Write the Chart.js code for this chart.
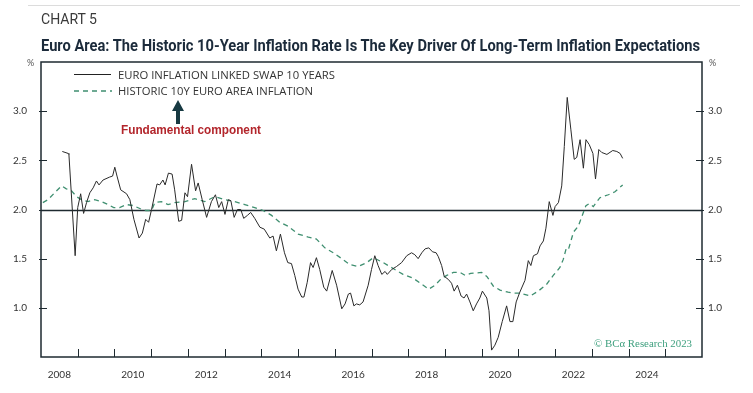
<!DOCTYPE html>
<html><head><meta charset="utf-8">
<script src="https://cdn.jsdelivr.net/npm/chart.js@4.4.0/dist/chart.umd.min.js"></script>
<style>
html,body{margin:0;padding:0;background:#fff;}
#wrap{position:relative;width:753px;height:393px;overflow:hidden;}
#c{position:absolute;left:0;top:0;}
.t{position:absolute;white-space:nowrap;transform-origin:0 50%;line-height:1;}
</style></head><body>
<div id="wrap">
<canvas id="c" width="753" height="393"></canvas>
<div style="position:absolute;left:28px;top:5px;width:712px;height:1px;background:#dcdcdc"></div>
<div class="t fit" data-w="56" style="left:41px;top:12px;font-size:14px;color:#3a3a3a;font-family:'Liberation Sans Narrow',Roboto,sans-serif;">CHART 5</div>
<div class="t fit" data-w="659" style="left:41px;top:37px;font-size:17px;font-weight:bold;color:#1c2b3b;font-family:'Liberation Sans Narrow',Roboto,sans-serif;">Euro Area: The Historic 10-Year Inflation Rate Is The Key Driver Of Long-Term Inflation Expectations</div>
<div class="t" style="left:27px;top:58px;font-size:9px;color:#555;font-family:Lato,sans-serif;">%</div>
<div class="t" style="left:709px;top:58px;font-size:9px;color:#555;font-family:Lato,sans-serif;">%</div>
<div style="position:absolute;left:74px;top:74px;width:37px;height:1px;background:#222"></div>
<svg style="position:absolute;left:72px;top:86px" width="42" height="10"><line x1="2" y1="5" x2="40" y2="5" stroke="#3f8f70" stroke-width="1.3" stroke-dasharray="5,4"/></svg>
<div class="t fit" data-w="217" style="left:118px;top:70px;font-size:10px;color:#333;font-family:'Open Sans',sans-serif;">EURO INFLATION LINKED SWAP 10 YEARS</div>
<div class="t fit" data-w="195" style="left:118px;top:86px;font-size:10px;color:#333;font-family:'Open Sans',sans-serif;">HISTORIC 10Y EURO AREA INFLATION</div>
<svg style="position:absolute;left:168px;top:98px" width="20" height="28"><polygon points="10,2 4,13 8,13 8,26 12,26 12,13 16,13" fill="#173a42"/></svg>
<div class="t fit" data-w="140" style="left:121px;top:124px;font-size:12.5px;font-weight:bold;color:#b3262c;font-family:'Liberation Sans',Arial,sans-serif;">Fundamental component</div>
<div class="t fit" data-w="98" style="left:594px;top:338px;font-size:11px;color:#3fa07f;font-family:'Liberation Serif','DejaVu Serif',serif;">© BCα Research 2023</div>
</div>
<script>
// ---- data (decimal years, %) ----
const swapYears = [2008.58,2008.74,2008.76,2008.93,2009.00,2009.08,2009.16,2009.24,2009.33,2009.42,2009.51,2009.58,2009.69,2009.87,2009.95,2010.01,2010.07,2010.17,2010.33,2010.42,2010.53,2010.67,2010.76,2010.85,2010.93,2011.01,2011.16,2011.23,2011.32,2011.38,2011.47,2011.57,2011.64,2011.75,2011.83,2011.92,2011.99,2012.10,2012.21,2012.28,2012.39,2012.51,2012.64,2012.75,2012.84,2012.92,2013.01,2013.10,2013.17,2013.26,2013.35,2013.44,2013.52,2013.62,2013.71,2013.82,2013.96,2014.08,2014.23,2014.32,2014.41,2014.52,2014.63,2014.72,2014.82,2014.91,2015.00,2015.10,2015.16,2015.25,2015.34,2015.41,2015.50,2015.59,2015.70,2015.78,2015.93,2016.05,2016.19,2016.28,2016.37,2016.43,2016.52,2016.59,2016.68,2016.77,2016.91,2017.00,2017.09,2017.18,2017.28,2017.37,2017.43,2017.55,2017.68,2017.82,2017.96,2018.09,2018.18,2018.27,2018.37,2018.46,2018.56,2018.66,2018.76,2018.82,2018.91,2018.98,2019.09,2019.18,2019.25,2019.34,2019.44,2019.52,2019.59,2019.68,2019.77,2019.86,2019.95,2020.02,2020.14,2020.20,2020.27,2020.36,2020.45,2020.56,2020.68,2020.77,2020.85,2020.94,2021.04,2021.18,2021.27,2021.34,2021.41,2021.52,2021.59,2021.68,2021.75,2021.84,2021.94,2022.00,2022.09,2022.18,2022.25,2022.33,2022.43,2022.52,2022.59,2022.68,2022.77,2022.84,2022.93,2023.03,2023.10,2023.19,2023.27,2023.41,2023.57,2023.68,2023.77,2023.84];
const swapValues = [2.59,2.57,2.56,1.53,2.02,2.16,1.96,2.07,2.17,2.22,2.29,2.25,2.30,2.33,2.34,2.43,2.34,2.20,2.16,2.10,1.90,1.71,1.76,1.90,1.87,2.00,2.26,2.25,2.30,2.25,2.37,2.36,2.20,1.88,1.89,2.17,2.13,2.46,2.19,2.27,2.10,1.92,2.08,2.15,2.02,2.08,1.95,2.10,2.09,1.92,2.00,2.00,1.91,1.94,1.97,1.91,1.82,1.80,1.71,1.73,1.58,1.75,1.56,1.46,1.45,1.33,1.19,1.11,1.11,1.26,1.46,1.41,1.51,1.39,1.21,1.17,1.38,1.23,0.99,1.04,1.14,1.15,1.02,1.04,1.03,1.06,1.23,1.39,1.53,1.43,1.34,1.37,1.34,1.39,1.42,1.46,1.53,1.56,1.54,1.50,1.56,1.60,1.61,1.57,1.56,1.52,1.43,1.32,1.29,1.25,1.17,1.23,1.12,1.10,1.14,1.06,0.97,1.04,1.10,1.17,1.10,0.97,0.57,0.62,0.70,0.86,1.02,0.86,0.86,1.06,1.16,1.28,1.48,1.43,1.53,1.55,1.63,1.68,1.81,2.08,1.94,2.03,2.07,2.24,2.64,3.14,2.81,2.51,2.53,2.71,2.42,2.71,2.66,2.57,2.31,2.61,2.58,2.56,2.60,2.59,2.57,2.52];
const histYears = [2008.05,2008.19,2008.37,2008.56,2008.69,2008.83,2008.97,2009.10,2009.28,2009.46,2009.65,2009.83,2009.98,2010.14,2010.33,2010.51,2010.69,2010.85,2011.01,2011.10,2011.28,2011.46,2011.64,2011.92,2012.19,2012.46,2012.73,2013.01,2013.28,2013.55,2013.82,2014.05,2014.28,2014.50,2014.73,2015.00,2015.28,2015.50,2015.73,2015.96,2016.19,2016.41,2016.64,2016.87,2017.05,2017.32,2017.59,2017.86,2018.14,2018.37,2018.56,2018.73,2018.91,2019.05,2019.23,2019.41,2019.55,2019.70,2020.00,2020.14,2020.32,2020.50,2020.72,2020.88,2021.04,2021.32,2021.54,2021.77,2021.95,2022.13,2022.22,2022.30,2022.36,2022.50,2022.63,2022.73,2022.84,2022.93,2023.04,2023.22,2023.45,2023.63,2023.84];
const histValues = [2.07,2.10,2.17,2.24,2.21,2.19,2.13,2.10,2.08,2.10,2.08,2.05,2.02,2.02,2.05,2.04,2.01,1.99,1.99,2.07,2.08,2.05,2.07,2.08,2.11,2.08,2.13,2.10,2.08,2.05,2.02,1.99,1.94,1.87,1.83,1.75,1.72,1.70,1.61,1.56,1.50,1.44,1.42,1.46,1.51,1.46,1.40,1.34,1.30,1.24,1.19,1.23,1.30,1.33,1.36,1.36,1.33,1.35,1.36,1.32,1.22,1.18,1.16,1.15,1.15,1.12,1.17,1.24,1.33,1.41,1.49,1.60,1.59,1.77,1.83,1.93,2.04,2.06,2.03,2.12,2.15,2.18,2.25];
const yearLabels = [2008,2010,2012,2014,2016,2018,2020,2022,2024];
const yearTicks = [2009,2010,2011,2012,2013,2014,2015,2016,2017,2018,2019,2020,2021,2022,2023,2024,2025];
const yTickValues = [1.0,1.5,2.0,2.5,3.0];
const refValue = 2.0;
const seriesNames = ['EURO INFLATION LINKED SWAP 10 YEARS','HISTORIC 10Y EURO AREA INFLATION'];

const pts = (xs, vs) => xs.map((x, i) => ({x, y: vs[i]}));

const deco = {
  id: 'deco',
  beforeDatasetsDraw(chart) {
    const {ctx, chartArea: a, scales: {y}} = chart;
    const py = Math.round(y.getPixelForValue(refValue)) + 0.5;
    ctx.save();
    ctx.strokeStyle = '#1e2a30'; ctx.lineWidth = 1.3;
    ctx.beginPath(); ctx.moveTo(a.left, py); ctx.lineTo(a.right, py); ctx.stroke();
    ctx.restore();
  },
  afterDraw(chart) {
    const {ctx, chartArea: a, scales: {x, y}} = chart;
    ctx.save();
    ctx.strokeStyle = '#1e2a30';
    ctx.lineWidth = 1;
    yearTicks.forEach(yr => {
      const px = Math.round(x.getPixelForValue(yr)) + 0.5;
      ctx.beginPath(); ctx.moveTo(px, a.bottom); ctx.lineTo(px, a.bottom - 8); ctx.stroke();
    });
    yTickValues.forEach(v => {
      const py = Math.round(y.getPixelForValue(v)) + 0.5;
      ctx.beginPath(); ctx.moveTo(a.left - 2, py); ctx.lineTo(a.left + 6, py); ctx.stroke();
      ctx.beginPath(); ctx.moveTo(a.right - 6, py); ctx.lineTo(a.right + 2, py); ctx.stroke();
    });
    ctx.lineWidth = 1.5;
    ctx.strokeRect(a.left, a.top, a.right - a.left, a.bottom - a.top);
    ctx.restore();
  }
};

const tickFont = {size: 10, family: 'Lato, sans-serif'};
const yAxis = (pos, pad, w) => ({
  position: pos, min: 0.5, max: 3.5,
  afterBuildTicks: s => { s.ticks = yTickValues.map(v => ({value: v})); },
  afterFit: s => { s.width = w; },
  grid: {display: false, drawTicks: false}, border: {display: false},
  ticks: {padding: pad, color: '#333', font: tickFont, callback: v => Number(v).toFixed(1)}
});

new Chart(document.getElementById('c'), {
  type: 'line',
  data: {datasets: [
    {label: seriesNames[0], data: pts(swapYears, swapValues), borderColor: '#2a2a2a', borderWidth: 1, pointRadius: 0, tension: 0, yAxisID: 'y'},
    {label: seriesNames[1], data: pts(histYears, histValues), borderColor: '#3f8f70', borderWidth: 1.3, borderDash: [5, 4], pointRadius: 0, tension: 0, yAxisID: 'y'}
  ]},
  options: {
    responsive: false, animation: false, devicePixelRatio: 1,
    layout: {padding: {top: 62, left: 0, right: 0, bottom: 0}},
    plugins: {legend: {display: false}, tooltip: {enabled: false}},
    scales: {
      x: {type: 'linear', min: 2008, max: 2026,
        afterBuildTicks: s => { s.ticks = yearLabels.map(v => ({value: v + 0.5})); },
        afterFit: s => { s.height = 36; },
        grid: {display: false, drawTicks: false}, border: {display: false},
        ticks: {padding: 12, maxRotation: 0, autoSkip: false, color: '#333', font: tickFont, callback: v => String(Math.floor(v))}},
      y: yAxis('left', 14, 41),
      y2: yAxis('right', 6, 51)
    }
  },
  plugins: [deco]
});

document.querySelectorAll('.fit').forEach(el => {
  const w = el.getBoundingClientRect().width;
  const target = +el.dataset.w;
  if (w > 0) el.style.transform = 'scaleX(' + (target / w) + ')';
});
</script>
</body></html>
